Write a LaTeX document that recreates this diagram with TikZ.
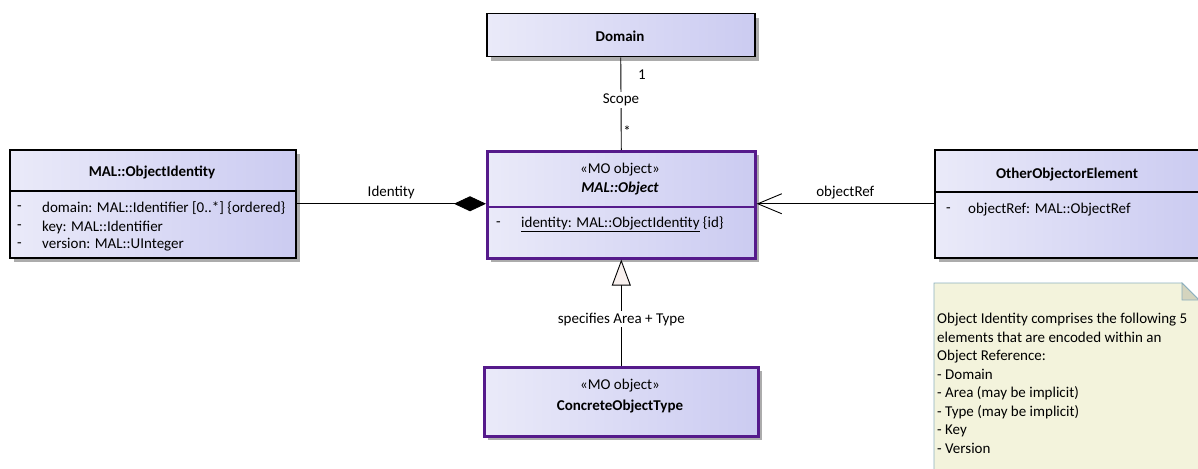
\documentclass[tikz,border=0pt]{standalone}
\usepackage{fontspec}
\setmainfont{Carlito}
\usetikzlibrary{arrows.meta,shadows}
\definecolor{gL}{RGB}{234,234,249}
\definecolor{gR}{RGB}{203,203,241}
\definecolor{mopurple}{RGB}{85,26,139}
\definecolor{notefill}{RGB}{243,243,220}
\definecolor{noteline}{RGB}{140,175,190}
\definecolor{foldfill}{RGB}{212,212,190}
\definecolor{shadowgray}{RGB}{172,172,172}
\definecolor{genfill}{RGB}{248,240,238}
\begin{document}
\begin{tikzpicture}[x=1pt,y=-1pt,
  font=\fontsize{15}{18}\selectfont,
  box/.style={rectangle, inner sep=0pt, anchor=north west, left color=gL, right color=gR,
    drop shadow={shadow xshift=4pt, shadow yshift=-4pt, fill=shadowgray, opacity=1}},
  classbox/.style={box, draw=black, line width=1.5pt},
  mobox/.style={box, draw=mopurple, line width=2.6pt},
  txt/.style={inner sep=0pt},
  attr/.style={inner sep=0pt, anchor=west},
  conn/.style={line width=0.9pt},
  lbl/.style={inner sep=1.5pt, fill=white}]
\useasboundingbox (0,0) rectangle (1198,468);
\clip (0,0) rectangle (1198,468);

% Domain
\node[classbox, minimum width=268pt, minimum height=43pt] (dom) at (486,13) {};
\node[txt, font=\fontsize{15}{18}\selectfont\bfseries] (domt) at (620,36) {Domain};

% MAL::Object
\node[mobox, minimum width=268pt, minimum height=107pt] (obj) at (486,150) {};
\draw[mopurple, line width=2.2pt] (486,207) -- (754,207);
\node[txt] (objst) at (620,170) {«MO object»};
\node[txt, font=\fontsize{15}{18}\selectfont\bfseries\itshape] (objn) at (620,189) {MAL::Object};
\node[attr] (objm) at (496,224) {-};
\node[attr] (obja) at (521,224) {\underline{identity: MAL::ObjectIdentity} \{id\}};

% MAL::ObjectIdentity
\node[classbox, minimum width=286pt, minimum height=108pt] (oid) at (9,149) {};
\draw[black, line width=1.2pt] (9,191) -- (295,191);
\node[txt, font=\fontsize{15}{18}\selectfont\bfseries] (oidt) at (152,172) {MAL::ObjectIdentity};
\node[attr] (oidm1) at (17,208) {-};
\node[attr] (oida1) at (42,208) {domain: MAL::Identifier [0..*] \{ordered\}};
\node[attr] (oidm2) at (17,227) {-};
\node[attr] (oida2) at (42,227) {key: MAL::Identifier};
\node[attr] (oidm3) at (17,245) {-};
\node[attr] (oida3) at (42,245) {version: MAL::UInteger};

% OtherObjectorElement
\node[classbox, minimum width=268pt, minimum height=108pt] (oth) at (934,149) {};
\draw[black, line width=1.2pt] (934,192) -- (1202,192);
\node[txt, font=\fontsize{15}{18}\selectfont\bfseries] (otht) at (1067,175) {OtherObjectorElement};
\node[attr] (othm) at (946,210) {-};
\node[attr] (otha) at (968,210) {objectRef: MAL::ObjectRef};

% ConcreteObjectType
\node[mobox, minimum width=274pt, minimum height=69pt] (conc) at (483,366) {};
\node[txt] (concst) at (620,386) {«MO object»};
\node[txt, font=\fontsize{15}{18}\selectfont\bfseries] (concn) at (620,406) {ConcreteObjectType};

% Note
\draw[noteline, line width=0.8pt, fill=notefill] (934,283) -- (1182,283) -- (1199,300) -- (1199,475) -- (934,475) -- cycle;
\draw[noteline, line width=0.8pt, fill=foldfill] (1182,283) -- (1182,300) -- (1199,300) -- cycle;
\node[inner sep=0pt, anchor=north west, align=left, font=\fontsize{15}{18.5}\selectfont] (note) at (937,313)
 {Object Identity comprises the following 5\\elements that are encoded within an\\Object Reference:\\- Domain\\- Area (may be implicit)\\- Type (may be implicit)\\- Key\\- Version};

% Connectors
\draw[conn] (dom.south) -- (obj.north) node[lbl, pos=0.46] (scope) {Scope};
\node[txt] (m1) at (642,75) {1};
\node[txt] (m2) at (627,131) {*};
\draw[conn, -{Diamond[length=32pt, width=15pt]}] (oid.east) -- (oid.east -| obj.west)
  node[txt, pos=0.5, above=4pt] (idl) {Identity};
\draw[conn, -{Straight Barb[length=24pt, width=20pt, line width=0.9pt]}] (oth.west) -- (oth.west -| obj.east)
  node[txt, pos=0.5, above=4pt] (refl) {objectRef};
\draw[conn, -{Triangle[length=26pt, width=19pt, fill=genfill]}] (conc.north) -- (obj.south)
  node[lbl, pos=0.44] (spec) {specifies Area + Type};
\end{tikzpicture}
\end{document}
